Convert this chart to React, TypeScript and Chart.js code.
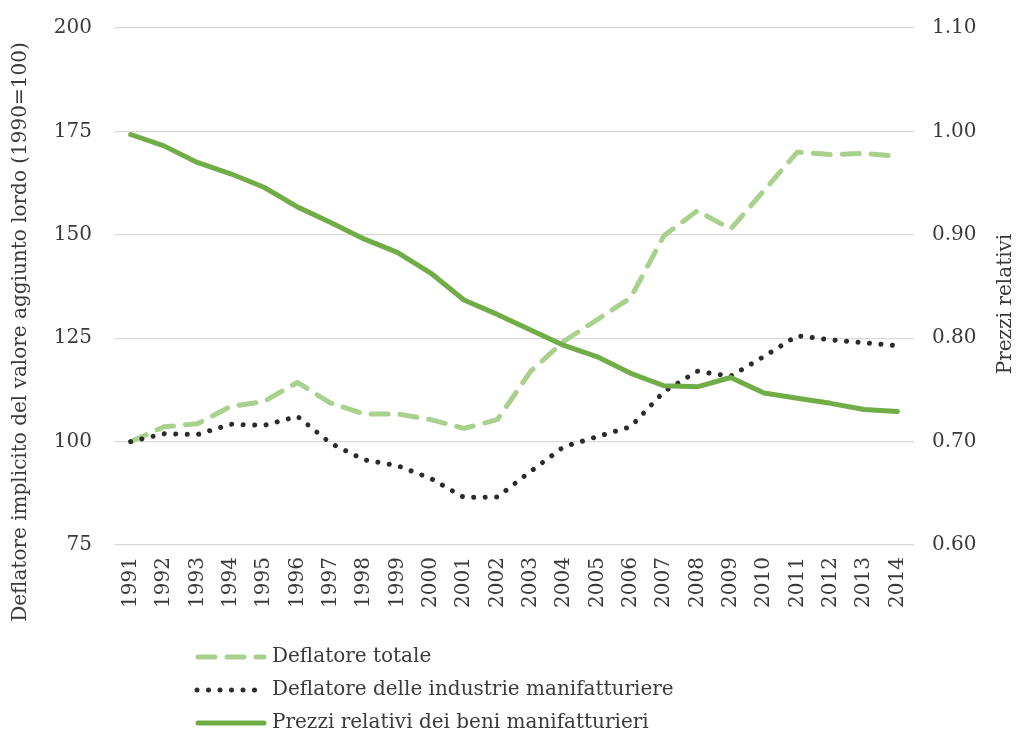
import React, { useEffect, useRef } from "react";
import { Chart, registerables } from "chart.js";

Chart.register(...registerables);

const years = ["1991","1992","1993","1994","1995","1996","1997","1998","1999","2000","2001","2002","2003","2004","2005","2006","2007","2008","2009","2010","2011","2012","2013","2014"];
const deflatoreTotale = [100, 103.6, 104.3, 108.5, 109.7, 114.3, 109.3, 106.7, 106.7, 105.3, 103.2, 105.3, 117.0, 124.3, 129.5, 134.8, 149.8, 155.8, 151.4, 160.7, 170.0, 169.4, 169.7, 169.0];
const deflatoreManif = [100, 101.9, 101.7, 104.2, 103.9, 106.1, 99.6, 95.6, 94.2, 91.1, 86.5, 86.6, 92.8, 98.8, 101.2, 103.6, 112.1, 117.0, 115.8, 120.6, 125.6, 124.6, 123.9, 123.2];
const prezziRelativi = [0.997, 0.986, 0.970, 0.959, 0.946, 0.927, 0.912, 0.896, 0.883, 0.863, 0.837, 0.823, 0.808, 0.793, 0.782, 0.766, 0.754, 0.753, 0.762, 0.747, 0.742, 0.737, 0.731, 0.729];
const leftTitle = "Deflatore implicito del valore aggiunto lordo (1990=100)";
const rightTitle = "Prezzi relativi";
const seriesNames = ["Deflatore totale", "Deflatore delle industrie manifatturiere", "Prezzi relativi dei beni manifatturieri"];

const FONT = "'DejaVu Serif', serif";
const TEXT = "#3a3a3a";
const C_DASH = "#A9D18E";
const C_DOT = "#2b2b2b";
const C_SOLID = "#70AD47";
const DASH = [17, 12];
const DOT = [0.001, 11.5];

const overlay = {
  id: "overlay",
  afterDraw(chart: any) {
    const ctx = chart.ctx;
    ctx.save();
    ctx.fillStyle = TEXT;
    ctx.font = `20px ${FONT}`;
    ctx.textAlign = "center";
    ctx.textBaseline = "middle";
    ctx.save();
    ctx.translate(21, 332);
    ctx.rotate(-Math.PI / 2);
    ctx.fillText(leftTitle, 0, 0);
    ctx.restore();
    ctx.save();
    ctx.translate(1006, 304);
    ctx.rotate(-Math.PI / 2);
    ctx.fillText(rightTitle, 0, 0);
    ctx.restore();
    const styles = [
      { color: C_DASH, dash: DASH, w: 5 },
      { color: C_DOT, dash: DOT, w: 5 },
      { color: C_SOLID, dash: [], w: 5 },
    ];
    const rows = [657, 690, 723];
    ctx.textAlign = "left";
    seriesNames.forEach((name, i) => {
      const y = rows[i];
      const s = styles[i];
      ctx.save();
      ctx.strokeStyle = s.color;
      ctx.lineWidth = s.w;
      ctx.lineCap = "round";
      ctx.setLineDash(s.dash);
      ctx.beginPath();
      ctx.moveTo(i === 1 ? 197 : 198, y);
      ctx.lineTo(264, y);
      ctx.stroke();
      ctx.restore();
      ctx.fillStyle = TEXT;
      ctx.fillText(name, 272, y);
    });
    ctx.restore();
  },
};

export default function App() {
  const ref = useRef<HTMLCanvasElement | null>(null);
  useEffect(() => {
    if (!ref.current) return;
    const chart = new Chart(ref.current, {
      type: "line",
      data: {
        labels: years,
        datasets: [
          {
            label: seriesNames[0],
            data: deflatoreTotale,
            yAxisID: "y",
            borderColor: C_DASH,
            borderWidth: 5,
            borderDash: DASH,
            borderCapStyle: "round",
            borderJoinStyle: "round",
            pointRadius: 0,
            tension: 0,
            order: 3,
          },
          {
            label: seriesNames[1],
            data: deflatoreManif,
            yAxisID: "y",
            borderColor: C_DOT,
            borderWidth: 5,
            borderDash: DOT,
            borderCapStyle: "round",
            borderJoinStyle: "round",
            pointRadius: 0,
            tension: 0,
            order: 2,
          },
          {
            label: seriesNames[2],
            data: prezziRelativi,
            yAxisID: "y1",
            borderColor: C_SOLID,
            borderWidth: 5,
            borderCapStyle: "round",
            borderJoinStyle: "round",
            pointRadius: 0,
            tension: 0,
            order: 1,
          },
        ],
      },
      options: {
        animation: false,
        responsive: true,
        maintainAspectRatio: false,
        layout: { padding: { left: 34, top: 28, right: 0, bottom: 0 } },
        plugins: { legend: { display: false }, tooltip: { enabled: false } },
        scales: {
          x: {
            offset: true,
            grid: { display: false, drawTicks: false },
            border: { display: false },
            ticks: {
              color: TEXT,
              font: { family: FONT, size: 20 },
              minRotation: 90,
              maxRotation: 90,
              padding: 12,
              autoSkip: false,
            },
            afterFit: (s: any) => { s.height = 193; s.paddingLeft = 0; s.paddingRight = 0; },
          },
          y: {
            position: "left",
            min: 75,
            max: 200,
            grid: { color: "#D9D9D9", lineWidth: 1.3, drawTicks: false },
            border: { display: false },
            ticks: {
              stepSize: 25,
              color: TEXT,
              font: { family: FONT, size: 20 },
              padding: 22,
            },
            afterFit: (s: any) => { s.width = 80; s.paddingTop = 0; s.paddingBottom = 0; },
          },
          y1: {
            position: "right",
            min: 0.6,
            max: 1.1,
            grid: { display: false, drawTicks: false },
            border: { display: false },
            ticks: {
              stepSize: 0.1,
              color: TEXT,
              font: { family: FONT, size: 20 },
              padding: 18,
              callback: (v: any) => Number(v).toFixed(2),
            },
            afterFit: (s: any) => { s.width = 108; s.paddingTop = 0; s.paddingBottom = 0; },
          },
        },
      },
      plugins: [overlay],
    });
    return () => chart.destroy();
  }, []);
  return (
    <div style={{ position: "fixed", left: 0, top: 0, width: 1022, height: 738, background: "#fff" }}>
      <canvas ref={ref} />
    </div>
  );
}
